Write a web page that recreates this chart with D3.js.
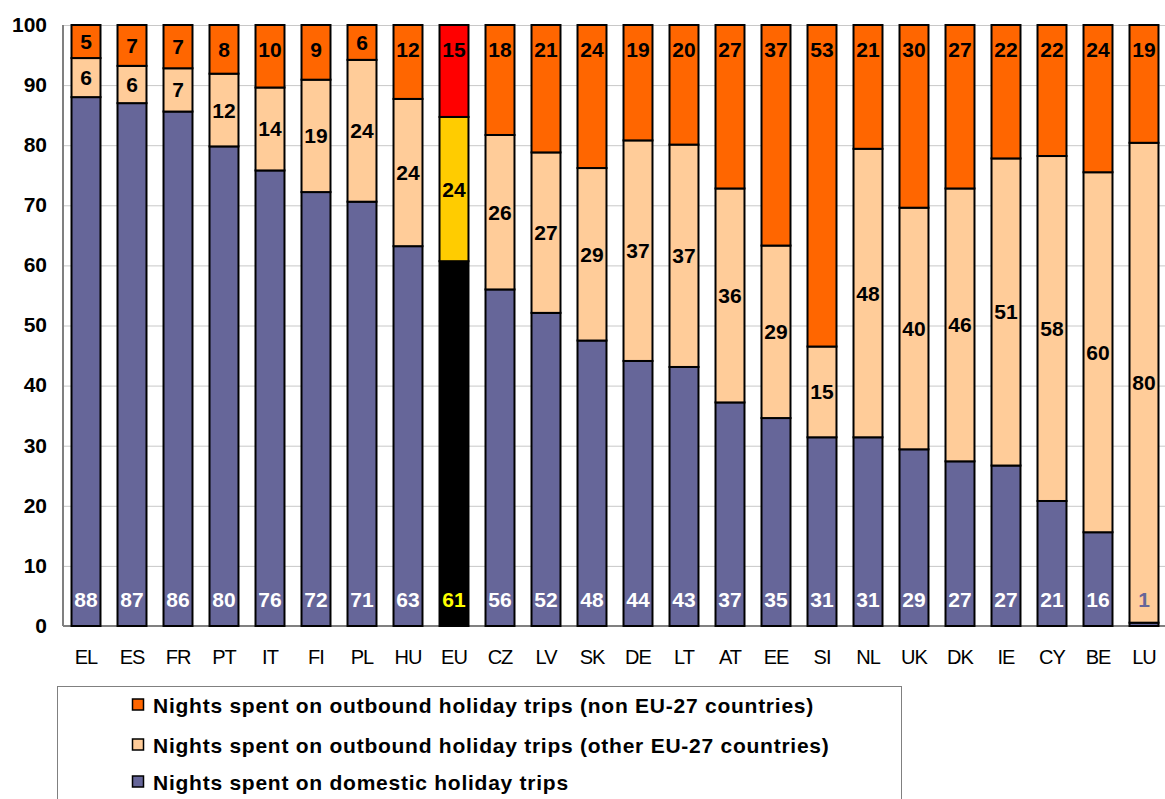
<!DOCTYPE html>
<html>
<head>
<meta charset="utf-8">
<script src="https://cdn.jsdelivr.net/npm/d3@7"></script>
<style>
  body { margin: 0; background: #fff; }
  text { font-family: "Liberation Sans", Arial, sans-serif; }
  .grid line { stroke: #c8c8c8; stroke-width: 1; }
  .grid .domain { display: none; }
  .y-axis text { font-weight: bold; font-size: 21px; fill: #000; }
  .x-axis text { font-size: 20px; fill: #000; letter-spacing: -1px; }
  .val { font-weight: bold; font-size: 21px; text-anchor: middle; }
  .legend text { font-weight: bold; font-size: 21px; letter-spacing: 0.75px; }
</style>
</head>
<body>
<script>
// Data // ----------------------------------------------------------------------
var countries = ["EL","ES","FR","PT","IT","FI","PL","HU","EU","CZ","LV","SK",
                 "DE","LT","AT","EE","SI","NL","UK","DK","IE","CY","BE","LU"];

// segment sizes (share of nights, %)
var domestic = [88.0,87.0,85.6,79.8,75.8,72.2,70.6,63.2,60.7,56.0,52.1,47.5,
                44.1,43.1,37.2,34.6,31.4,31.4,29.4,27.4,26.7,20.8,15.6,0.55];
var otherEU  = [6.5,6.2,7.2,12.1,13.8,18.7,23.6,24.5,24.0,25.7,26.7,28.7,
                36.7,37.0,35.6,28.7,15.1,48.0,40.2,45.4,51.1,57.4,59.9,79.85];
var nonEU    = [5.5,6.8,7.2,8.1,10.4,9.1,5.8,12.3,15.3,18.3,21.2,23.8,
                19.2,19.9,27.2,36.7,53.5,20.6,30.4,27.2,22.2,21.8,24.5,19.6];

// printed labels (rounded in the source)
var domesticLabels = [88,87,86,80,76,72,71,63,61,56,52,48,44,43,37,35,31,31,29,27,27,21,16,1];
var otherEULabels  = [6,6,7,12,14,19,24,24,24,26,27,29,37,37,36,29,15,48,40,46,51,58,60,80];
var nonEULabels    = [5,7,7,8,10,9,6,12,15,18,21,24,19,20,27,37,53,21,30,27,22,22,24,19];

var yTicks = [0,10,20,30,40,50,60,70,80,90,100];

var legendLabels = ["Nights spent on outbound holiday trips (non EU-27 countries)",
                    "Nights spent on outbound holiday trips (other EU-27 countries)",
                    "Nights spent on domestic holiday trips"];

// colours: normal countries / EU average
var colors   = {domestic: "#666699", otherEU: "#ffcc99", nonEU: "#ff6600"};
var euColors = {domestic: "#000000", otherEU: "#ffcc00", nonEU: "#ff0000"};

// Setup // ---------------------------------------------------------------------
var W = 1165, H = 799;
var plot = {left: 63, right: 1165, top: 25, bottom: 626};

var svg = d3.select("body").append("svg")
            .attr("width", W)
            .attr("height", H);

var x = d3.scaleBand()
          .domain(countries)
          .range([plot.left, plot.left + 24 * 46])
          .paddingInner(0.37)
          .paddingOuter(0.185);

var y = d3.scaleLinear().domain([0, 100]).range([plot.bottom, plot.top]);

// build the rows for d3.stack
var rows = countries.map(function(c, i) {
    return {country: c, i: i, domestic: domestic[i], otherEU: otherEU[i], nonEU: nonEU[i]};
});
var keys = ["domestic", "otherEU", "nonEU"];
var series = d3.stack().keys(keys)(rows);

// Gridlines // -----------------------------------------------------------------
svg.append("g")
   .attr("class", "grid")
   .attr("transform", "translate(" + plot.left + ",0)")
   .call(d3.axisRight(y)
           .tickValues(yTicks)
           .tickSize(plot.right - plot.left)
           .tickFormat(""));

// axis lines (left + bottom)
svg.append("line")
   .attr("x1", plot.left).attr("x2", plot.left)
   .attr("y1", plot.top).attr("y2", plot.bottom)
   .attr("stroke", "#808080").attr("stroke-width", 2);
svg.append("line")
   .attr("x1", plot.left).attr("x2", plot.right)
   .attr("y1", plot.bottom).attr("y2", plot.bottom)
   .attr("stroke", "#808080").attr("stroke-width", 2);

// y tick labels
svg.append("g")
   .attr("class", "y-axis")
   .attr("transform", "translate(" + (plot.left - 16) + ",0)")
   .call(d3.axisLeft(y)
           .tickValues(yTicks)
           .tickSize(0)
           .tickPadding(0))
   .call(function(g) { g.select(".domain").remove(); })
   .selectAll("text")
   .attr("dy", "0.3em");

// x tick labels
svg.append("g")
   .attr("class", "x-axis")
   .attr("transform", "translate(0," + plot.bottom + ")")
   .call(d3.axisBottom(x).tickSize(0).tickPadding(0))
   .call(function(g) { g.select(".domain").remove(); })
   .selectAll("text")
   .attr("dy", null)
   .attr("y", 38);

// Bars // ----------------------------------------------------------------------
svg.append("g")
   .selectAll("g")
   .data(series)
   .join("g")
   .each(function(s) {
       d3.select(this).selectAll("rect")
         .data(s)
         .join("rect")
         .attr("x", function(d) { return x(d.data.country); })
         .attr("width", x.bandwidth())
         .attr("y", function(d) { return y(d[1]); })
         .attr("height", function(d) { return y(d[0]) - y(d[1]); })
         .attr("fill", function(d) {
             return d.data.country === "EU" ? euColors[s.key] : colors[s.key];
         })
         .attr("stroke", "#000")
         .attr("stroke-width", 2);
   });

// Value labels // --------------------------------------------------------------
var cx = function(i) { return x(countries[i]) + x.bandwidth() / 2; };

// domestic: inside base
svg.append("g").selectAll("text")
   .data(series[0])
   .join("text")
   .attr("class", "val")
   .attr("x", function(d) { return cx(d.data.i); })
   .attr("y", plot.bottom - 19)
   .attr("fill", function(d) {
       if (d.data.country === "EU") return "#ffff00";
       return (y(d[0]) - y(d[1])) < 30 ? colors.domestic : "#fff";
   })
   .text(function(d) { return domesticLabels[d.data.i]; });

// other EU-27: centred
svg.append("g").selectAll("text")
   .data(series[1])
   .join("text")
   .attr("class", "val")
   .attr("x", function(d) { return cx(d.data.i); })
   .attr("y", function(d) { return (y(d[0]) + y(d[1])) / 2 + 7.5; })
   .attr("fill", "#000")
   .text(function(d) { return otherEULabels[d.data.i]; });

// non EU-27: inside end (centred when the segment is short)
svg.append("g").selectAll("text")
   .data(series[2])
   .join("text")
   .attr("class", "val")
   .attr("x", function(d) { return cx(d.data.i); })
   .attr("y", function(d) {
       var mid = (y(d[0]) + y(d[1])) / 2;
       return Math.min(mid, y(d[1]) + 24) + 7.5;
   })
   .attr("fill", "#000")
   .text(function(d) { return nonEULabels[d.data.i]; });

// Legend // --------------------------------------------------------------------
var legend = svg.append("g").attr("class", "legend");

legend.append("rect")
      .attr("x", 57.5).attr("y", 686.5)
      .attr("width", 844).attr("height", 140)
      .attr("fill", "none")
      .attr("stroke", "#808080")
      .attr("stroke-width", 1);

var legendKeys = ["nonEU", "otherEU", "domestic"];
var legendY = [705, 745, 782];

var item = legend.selectAll("g.item")
                 .data(legendKeys)
                 .join("g")
                 .attr("class", "item")
                 .attr("transform", function(d, i) { return "translate(0," + legendY[i] + ")"; });

item.append("rect")
    .attr("x", 132.5).attr("y", -6)
    .attr("width", 11).attr("height", 11)
    .attr("fill", function(d) { return colors[d]; })
    .attr("stroke", "#000")
    .attr("stroke-width", 1.5);

item.append("text")
    .attr("x", 153)
    .attr("y", 7.5)
    .text(function(d, i) { return legendLabels[i]; });
</script>
</body>
</html>
